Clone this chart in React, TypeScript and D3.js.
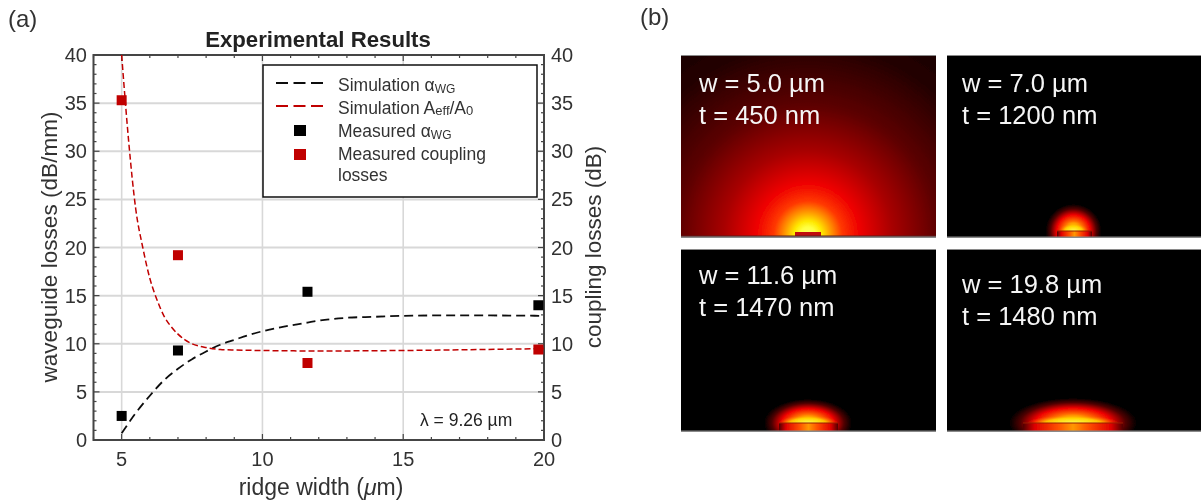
import React from "react";
import * as d3 from "d3";

const simWidths = [5, 5.5, 6, 6.5, 7, 7.5, 8, 8.5, 9, 9.5, 10, 11, 11.6, 12, 13, 14, 15, 17, 20];
const simLoss = [0.7, 2.8, 4.6, 6.2, 7.4, 8.4, 9.2, 9.9, 10.4, 10.9, 11.3, 11.9, 12.2, 12.4, 12.7, 12.8, 12.9, 12.95, 12.9];
const aeffWidths = [5, 5.12, 5.25, 5.5, 5.75, 6, 6.25, 6.5, 6.75, 7, 7.25, 7.5, 8, 8.5, 9, 10, 12, 15, 20];
const aeffValues = [40, 35.5, 31, 24, 20, 16.8, 14.6, 12.9, 11.8, 11, 10.4, 10, 9.6, 9.4, 9.35, 9.3, 9.25, 9.3, 9.5];
const measuredWidths = [5, 7, 11.6, 19.8];
const measuredLoss = [2.5, 9.3, 15.4, 14];
const measuredCoupling = [35.3, 19.2, 8, 9.4];
const xTicks = [5, 10, 15, 20];
const yTicks = [0, 5, 10, 15, 20, 25, 30, 35, 40];
const xMinor = d3.range(4, 21);
const yMinor = d3.range(0, 41);

const panelLabels = [
  ["w = 5.0 µm", "t = 450 nm"],
  ["w = 7.0 µm", "t = 1200 nm"],
  ["w = 11.6 µm", "t = 1470 nm"],
  ["w = 19.8 µm", "t = 1480 nm"],
];
const ridgeWidthsUm = [5, 7, 11.6, 19.8];
// radial profile of the small-mode panel: radius in px -> colour
const wideRadius = [0, 8, 14, 22, 34, 52, 84, 130, 190, 230];
const wideColors = ["#ffff70", "#ffff40", "#ffe800", "#ffa000", "#ff3800", "#ee0000", "#a80000", "#5c0000", "#240000", "#180000"];
const glowStops = [0, 0.2, 0.36, 0.6, 0.82, 1];
const glowColors = ["#ffff50", "#ffe800", "#ff7000", "#f00000", "#500000", "#000000"];

const FONT = "'Liberation Sans', Arial, sans-serif";
const TXT = "#333333";
const RED = "#c00000";

const x = d3.scaleLinear().domain([4, 20]).range([93.5, 544]);
const y = d3.scaleLinear().domain([0, 40]).range([440, 55]);
const radiusScale = d3.scaleLinear().domain([0, 230]).range([0, 1]);

const curve = d3
  .line<[number, number]>()
  .x((d) => x(d[0]))
  .y((d) => y(d[1]))
  .curve(d3.curveMonotoneX);

const panelX = d3.scaleOrdinal<number, number>().domain([0, 1]).range([681, 947]);
const panelY = d3.scaleOrdinal<number, number>().domain([0, 1]).range([55, 249]);
const PW = 255;
const PH = 182.5;
const textOffsets = [[18, 37, 69], [15, 37, 69], [18, 35, 67], [15, 44, 76]];
// glow geometry per panel, relative to panel's left/top
const glowGeom = [
  null,
  { cx: 126.5, cy: 176, rx: 28, ry: 27, bandRx: 15, ridgeL: 110, ridgeR: 145, ridgeY: 176 },
  { cx: 127, cy: 174, rx: 44, ry: 24, bandRx: 30, ridgeL: 98, ridgeR: 157, ridgeY: 174 },
  { cx: 126, cy: 174, rx: 64, ry: 25, bandRx: 46, ridgeL: 76, ridgeR: 176, ridgeY: 174 },
];

export default function App() {
  const wDoms = wideRadius.map((r, i) => ({ off: radiusScale(r), c: wideColors[i] }));
  return (
    <svg
      width={1201}
      height={502}
      viewBox="0 0 1201 502"
      style={{ position: "absolute", left: 0, top: 0, background: "#fff" }}
      fontFamily={FONT}
    >
      <defs>
        <filter id="soft" x="0" y="0" width="100%" height="100%">
          <feGaussianBlur stdDeviation="0.4" />
        </filter>
        <radialGradient id="wide" gradientUnits="userSpaceOnUse" cx={0} cy={0} r={230}>
          {wDoms.map((d, i) => (
            <stop key={i} offset={d.off} stopColor={d.c} />
          ))}
        </radialGradient>
        <radialGradient id="glow">
          {glowStops.map((s, i) => (
            <stop key={i} offset={s} stopColor={glowColors[i]} />
          ))}
        </radialGradient>
        <radialGradient id="band">
          <stop offset="0" stopColor="#ffff50" />
          <stop offset="0.6" stopColor="#ffd000" stopOpacity={0.85} />
          <stop offset="1" stopColor="#ff5000" stopOpacity={0} />
        </radialGradient>
        <linearGradient id="under">
          <stop offset="0" stopColor="#500000" />
          <stop offset="0.12" stopColor="#e00000" />
          <stop offset="0.35" stopColor="#ff5000" />
          <stop offset="0.5" stopColor="#ff9800" />
          <stop offset="0.65" stopColor="#ff5000" />
          <stop offset="0.88" stopColor="#e00000" />
          <stop offset="1" stopColor="#500000" />
        </linearGradient>
        {ridgeWidthsUm.map((_, i) => (
          <clipPath id={`clip${i}`} key={i}>
            <rect width={PW} height={PH} />
          </clipPath>
        ))}
        <clipPath id="plotClip">
          <rect x={x(4)} y={y(40)} width={x(20) - x(4) + 6} height={y(0) - y(40)} />
        </clipPath>
      </defs>

      <g filter="url(#soft)">
      <text x={8} y={27} fontSize={24} fill={TXT}>(a)</text>
      <text x={640} y={25} fontSize={24} fill={TXT}>(b)</text>
      <text x={318} y={47} textAnchor="middle" fontSize={22.2} fontWeight="bold" fill="#222">
        Experimental Results
      </text>

      {/* grid */}
      {yTicks.slice(1, -1).map((t) => (
        <line key={t} x1={x(4)} x2={x(20)} y1={y(t)} y2={y(t)} stroke="#d8d8d8" strokeWidth={2} />
      ))}
      {xTicks.slice(0, -1).map((t) => (
        <line key={t} x1={x(t)} x2={x(t)} y1={y(0)} y2={y(40)} stroke="#d8d8d8" strokeWidth={1.6} />
      ))}

      {/* frame ticks */}
      {xMinor.map((t) => {
        const len = t % 5 === 0 ? 6 : 3;
        return (
          <g key={t} stroke="#444" strokeWidth={1.2}>
            <line x1={x(t)} x2={x(t)} y1={y(0)} y2={y(0) - len} />
            <line x1={x(t)} x2={x(t)} y1={y(40)} y2={y(40) + len} />
          </g>
        );
      })}
      {yMinor.map((t) => {
        const len = t % 5 === 0 ? 6 : 3;
        return (
          <g key={t} stroke="#444" strokeWidth={1.2}>
            <line x1={x(4)} x2={x(4) + len} y1={y(t)} y2={y(t)} />
            <line x1={x(20)} x2={x(20) - len} y1={y(t)} y2={y(t)} />
          </g>
        );
      })}
      <rect x={x(4)} y={y(40)} width={x(20) - x(4)} height={y(0) - y(40)} fill="none" stroke="#444" strokeWidth={2} />

      {/* curves */}
      <g clipPath="url(#plotClip)">
        <path
          d={curve(simWidths.map((w, i) => [w, simLoss[i]] as [number, number])) ?? ""}
          fill="none"
          stroke="#111"
          strokeWidth={1.8}
          strokeDasharray="9 5"
        />
        <path
          d={curve(aeffWidths.map((w, i) => [w, aeffValues[i]] as [number, number])) ?? ""}
          fill="none"
          stroke={RED}
          strokeWidth={1.5}
          strokeDasharray="6 3"
        />
        {measuredWidths.map((w, i) => (
          <rect key={`k${i}`} x={x(w) - 5} y={y(measuredLoss[i]) - 5} width={10} height={10} fill="#000" />
        ))}
        {measuredWidths.map((w, i) => (
          <rect key={`r${i}`} x={x(w) - 5} y={y(measuredCoupling[i]) - 5} width={10} height={10} fill={RED} />
        ))}
      </g>

      {/* tick labels */}
      <g fontSize={20} fill={TXT}>
        {xTicks.map((t) => (
          <text key={t} x={x(t)} y={466} textAnchor="middle">{t}</text>
        ))}
        {yTicks.map((t) => (
          <text key={`l${t}`} x={87} y={y(t) + 7} textAnchor="end">{t}</text>
        ))}
        {yTicks.map((t) => (
          <text key={`r${t}`} x={551} y={y(t) + 7}>{t}</text>
        ))}
      </g>

      <text x={321} y={495} textAnchor="middle" fontSize={23} fill={TXT}>
        ridge width (<tspan fontStyle="italic">μ</tspan>m)
      </text>
      <text transform="translate(57,247) rotate(-90)" textAnchor="middle" fontSize={22.6} fill={TXT}>
        waveguide losses (dB/mm)
      </text>
      <text transform="translate(601,247) rotate(-90)" textAnchor="middle" fontSize={22.5} fill={TXT}>
        coupling losses (dB)
      </text>

      {/* legend */}
      <rect x={263} y={65} width={274} height={132} fill="#fff" stroke="#111" strokeWidth={1.5} />
      <line x1={276} x2={323} y1={83} y2={83} stroke="#111" strokeWidth={1.9} strokeDasharray="12 5.5" />
      <line x1={276} x2={323} y1={106} y2={106} stroke={RED} strokeWidth={1.9} strokeDasharray="12 5.5" />
      <rect x={294} y={125} width={12} height={11} fill="#000" />
      <rect x={294} y={149} width={12} height={11} fill={RED} />
      <g fontSize={17.5} fill={TXT}>
        <text x={338} y={91}>Simulation α<tspan fontSize={12} dy={2}>WG</tspan></text>
        <text x={338} y={114}>Simulation A<tspan fontSize={13} dy={1}>eff</tspan><tspan dy={-1}>/A</tspan><tspan fontSize={13} dy={1}>0</tspan></text>
        <text x={338} y={137}>Measured α<tspan fontSize={12} dy={2}>WG</tspan></text>
        <text x={338} y={160}>Measured coupling</text>
        <text x={338} y={181}>losses</text>
      </g>
      <text x={420} y={426} fontSize={17.5} fill="#222">λ = 9.26 µm</text>

      {/* mode panels */}
      {panelLabels.map((lines, i) => {
        const px = panelX(i % 2);
        const py = panelY(Math.floor(i / 2));
        const g = glowGeom[i];
        const off = textOffsets[i];
        return (
          <g key={i} transform={`translate(${px},${py})`}>
            <g clipPath={`url(#clip${i})`}>
              {g === null ? (
                <g>
                  <g transform="translate(127,180)">
                    <rect x={-127} y={-180} width={PW} height={PH} fill="url(#wide)" />
                  </g>
                  <rect x={114} y={177} width={26} height={4} fill="#c01010" />
                  <rect x={0} y={180.5} width={PW} height={2} fill="#5a2020" />
                </g>
              ) : (
                <g>
                  <rect width={PW} height={PH} fill="#000" />
                  <ellipse cx={g.cx} cy={g.cy} rx={g.rx} ry={g.ry} fill="url(#glow)" />
                  <ellipse cx={g.cx} cy={g.cy} rx={g.bandRx} ry={8} fill="url(#band)" />
                  <rect
                    x={g.ridgeL}
                    y={g.ridgeY}
                    width={g.ridgeR - g.ridgeL}
                    height={PH - g.ridgeY}
                    fill="url(#under)"
                  />
                  <line x1={g.ridgeL} x2={g.ridgeR} y1={g.ridgeY} y2={g.ridgeY} stroke="#9a2008" strokeWidth={1.2} />
                </g>
              )}
            </g>
            <rect width={PW} height={1} fill="#8a8a8a" />
            <rect y={PH - 1} width={PW} height={1.5} fill="#8a8a8a" />
            <text x={off[0]} y={off[1]} fontSize={25.5} fill="#f5f5f5">{lines[0]}</text>
            <text x={off[0]} y={off[2]} fontSize={25.5} fill="#f5f5f5">{lines[1]}</text>
          </g>
        );
      })}
      </g>
    </svg>
  );
}
